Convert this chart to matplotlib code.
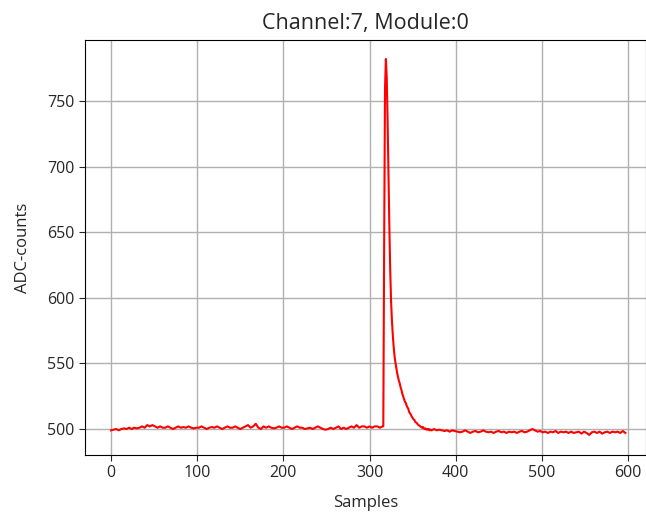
import matplotlib
matplotlib.use("Agg")
import matplotlib.pyplot as plt
import numpy as np

plt.rcParams['font.family'] = ['Open Sans', 'DejaVu Sans']

# baseline before the pulse, one value every 3 samples (0..312)
pre_step = 3
pre_adc = [
    499, 499.5, 500, 499, 500, 500.5, 500, 501, 500, 501, 500.5,
    501, 502, 501, 503, 502, 503, 502, 501, 502, 501,
    501, 502, 501, 500, 501, 502, 501, 501.5, 501, 502, 501, 500.5, 501,
    501, 502, 501, 500, 501, 501.5, 501, 502, 501, 500, 501, 502, 501, 501, 502, 501, 500,
    501, 502, 503, 501, 502, 504, 501, 500, 502, 501, 502, 501, 500.5, 501, 502, 501, 501,
    502, 501, 500, 501, 502, 501, 501, 500, 500.5, 501, 500, 501, 502, 501, 500, 499.5, 500,
    501, 500, 501, 502, 500, 501, 500, 501, 502, 501, 503, 501, 502, 502, 501, 502, 501, 502, 502, 501,
]

# pulse region, every sample (315..371)
pulse_start = 315
pulse_adc = [
    502, 502, 640, 760, 782, 768, 735, 695, 655, 622,
    598, 583, 572, 563, 556, 551, 547, 543, 540, 537,
    535, 532, 530, 527, 525, 523, 521, 520, 518, 516.5,
    515.5, 513, 512, 511, 509.5, 508.5, 507.5, 507, 505.5, 505,
    504.5, 503.5, 503, 502.5, 502, 501.5, 501, 501.5, 500.5, 500,
    500.5, 499.5, 500, 499.5, 500, 499, 499.5,
]

# baseline after the pulse, one value every 3 samples (372..597)
post_start = 372
post_step = 3
post_adc = [
    499, 500, 499, 499.5, 499, 498.5, 499, 498, 499, 498.5,
    498, 497.5, 498, 499, 498, 497, 498, 498.5, 497.5, 498,
    499, 498, 497.5, 498, 497, 498, 498.5, 497.5, 498, 497,
    498, 497.5, 498, 497, 498, 498.5, 497.5, 498, 499, 500, 499, 498, 498.5, 497.5,
    498, 497, 498, 497.5, 498.5, 497, 498, 497.5, 498, 497, 498, 497, 497.5, 498, 496.5, 498,
    497, 495.5, 497.5, 498, 497, 498, 496.5, 497.5, 498, 497, 498, 497.5, 498, 497, 498.5, 497,
]

samples = np.concatenate([
    np.arange(len(pre_adc)) * pre_step,
    pulse_start + np.arange(len(pulse_adc)),
    post_start + np.arange(len(post_adc)) * post_step,
])
adc = np.array(pre_adc + pulse_adc + post_adc, dtype=float)

fig = plt.figure(figsize=(6.46, 5.17), dpi=100)
ax = fig.add_axes([85 / 646, 1 - 455 / 517, 1 - 85 / 646, 415 / 517])
ax.plot(samples, adc, color='red', linewidth=1.5)

ax.set_xlim(-30.2, 620.9)
ax.set_ylim(480.2, 796.5)
ax.set_xticks([0, 100, 200, 300, 400, 500, 600])
ax.set_yticks([500, 550, 600, 650, 700, 750])
ax.grid(True, color='#b0b0b0', linewidth=1.0)
ax.set_axisbelow(True)
ax.tick_params(labelsize=11.5, length=4, colors='#262626')

ax.set_xlabel('Samples', fontsize=12, color='#262626', labelpad=10)
ax.set_ylabel('ADC-counts', fontsize=12, color='#262626', labelpad=12)
ax.set_title('Channel:7, Module:0', fontsize=15.5, color='#262626', pad=8)

fig.savefig('out.png', dpi=100)
